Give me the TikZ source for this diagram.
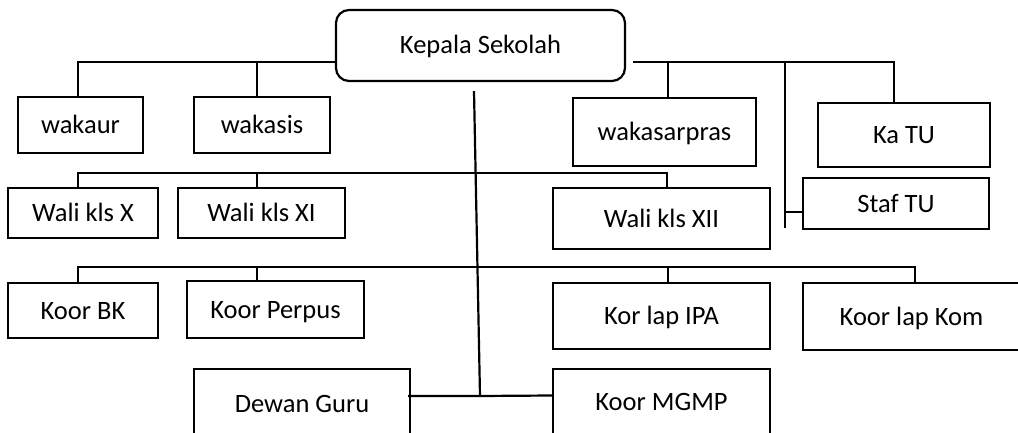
\documentclass[tikz,border=0pt]{standalone}
\usepackage{fontspec}
\setmainfont{Carlito}

\begin{document}
\begin{tikzpicture}[x=1pt,y=-1pt,
    box/.style={draw, line width=2.2pt, inner sep=0pt, text height=17pt, text depth=0pt, font=\fontsize{26.5}{30}\selectfont},
    link/.style={line width=2.2pt}]

    \clip (0,0) rectangle (1018,433);

    % Draw the head of the school
    \node[box, rounded corners=13pt, minimum width=289pt, minimum height=71pt] (kepsek) at (480.5,45.5) {Kepala Sekolah};

    % Draw the vice heads and the office
    \node[box, minimum width=125pt, minimum height=56pt] (wakaur) at (80.5,125) {wakaur};
    \node[box, minimum width=136pt, minimum height=56pt] (wakasis) at (262,125) {wakasis};
    \node[box, minimum width=183pt, minimum height=68pt] (wakasarpras) at (664.5,132) {wakasarpras};
    \node[box, minimum width=172pt, minimum height=64pt] (katu) at (904,135) {Ka TU};
    \node[box, minimum width=186pt, minimum height=51pt] (staftu) at (896,203.5) {Staf TU};

    % Draw the class teachers
    \node[box, minimum width=150pt, minimum height=50pt] (walix) at (83,213) {Wali kls X};
    \node[box, minimum width=167pt, minimum height=50pt] (walixi) at (261.5,213) {Wali kls XI};
    \node[box, minimum width=217pt, minimum height=61pt] (walixii) at (661.5,218.5) {Wali kls XII};

    % Draw the coordinators
    \node[box, minimum width=150pt, minimum height=55pt] (koorbk) at (83,310.5) {Koor BK};
    \node[box, minimum width=177pt, minimum height=57pt] (koorperpus) at (275.5,309.5) {Koor Perpus};
    \node[box, minimum width=217pt, minimum height=66pt] (korlapipa) at (661.5,316) {Kor lap IPA};
    \node[box, minimum width=217pt, minimum height=67pt] (koorlapkom) at (911.5,316.5) {Koor lap Kom};

    % Draw the teachers council and MGMP
    \node[box, minimum width=216pt, minimum height=69pt] (dewanguru) at (302,403.5) {Dewan Guru};
    \node[box, minimum width=217pt, minimum height=65pt] (koormgmp) at (661.5,401.5) {Koor MGMP};

    % Draw the lines from the head
    \draw[link] ([yshift=-16.5pt]kepsek.west) -| ([xshift=-2.5pt]wakaur.north);
    \draw[link] ([xshift=-5pt]wakasis.north) -- ++(0,-35);
    \draw[link] ([xshift=7pt,yshift=-16.5pt]kepsek.east) -| ([xshift=-10pt]katu.north);
    \draw[link] ([xshift=3.5pt]wakasarpras.north) -- ++(0,-36);
    \coordinate (tuline) at (785,228);
    \draw[link] (tuline) -- ++(0,-166);
    \draw[link] ([yshift=-8.5pt]staftu.west) -- ++(-18,0);

    % Draw the line to the classes
    \draw[link] ([xshift=-5pt]walix.north) -- ++(0,-14) -| ([xshift=5.5pt]walixii.north);
    \draw[link] ([xshift=-4.5pt]walixi.north) -- ++(0,-14);

    % Draw the line to the coordinators
    \draw[link] ([xshift=-5pt]koorbk.north) -- ++(0,-15) -| ([xshift=3.5pt]koorlapkom.north);
    \draw[link] ([xshift=-18.5pt]koorperpus.north) -- ++(0,-13);
    \draw[link] ([xshift=6.5pt]korlapipa.north) -- ++(0,-15);

    % Draw the middle line
    \coordinate (hub) at (480,396);
    \draw[link] ([xshift=-6.5pt,yshift=-9pt]kepsek.south) -- (hub);
    \draw[link] ([xshift=-3pt,yshift=7.5pt]dewanguru.east) -- (hub) -- ([yshift=6pt]koormgmp.west);

\end{tikzpicture}
\end{document}
